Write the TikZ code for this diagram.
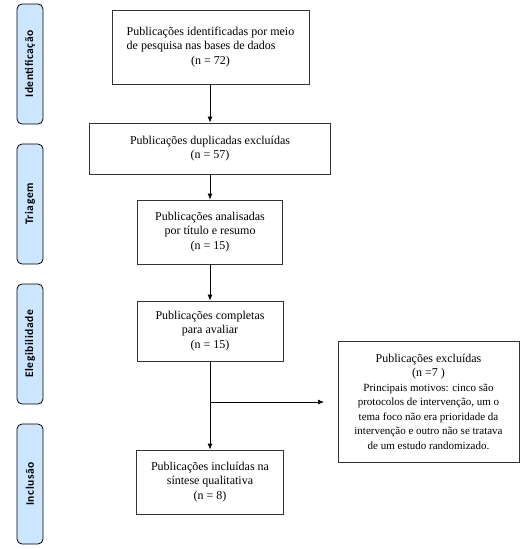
\documentclass[tikz,border=0pt]{standalone}
\usepackage{fontspec}
\setmainfont{Liberation Serif}
\newfontfamily\lblfont[LetterSpace=5]{Carlito}
\usetikzlibrary{arrows.meta}
\definecolor{lblblue}{HTML}{CCE6FF}
\definecolor{boxgray}{HTML}{333333}
\tikzset{
  stage/.style={draw=black, line width=0.8pt, fill=lblblue, rounded corners=5pt,
    minimum width=26pt, minimum height=120pt, inner sep=0pt},
  stagetext/.style={rotate=90, font=\lblfont\bfseries\fontsize{11.5}{13}\selectfont},
  flowbox/.style={draw=boxgray, line width=0.8pt, align=center, inner sep=2pt,
    font=\fontsize{12}{14.5}\selectfont},
  conn/.style={line width=0.8pt, draw=black},
  arr/.style={conn, -{Latex[length=6pt,width=5pt]}}
}
\begin{document}
\begin{tikzpicture}[x=1pt,y=-1pt]
\useasboundingbox (0,0) rectangle (532,549);
% stage labels
\node[stage] (s1) at (30,64) {};
\node[stagetext] (t1) at (s1.center) {Identificação};
\node[stage] (s2) at (30,204) {};
\node[stagetext] (t2) at (s2.center) {Triagem};
\node[stage] (s3) at (30,344) {};
\node[stagetext] (t3) at (s3.center) {Elegibilidade};
\node[stage] (s4) at (30,484) {};
\node[stagetext] (t4) at (s4.center) {Inclusão};
% flow boxes
\node[flowbox, minimum width=197pt, minimum height=74pt] (b1) at (210.5,47)
  {\def\arraystretch{1.0}\begin{tabular}{@{}l@{}}Publicações identificadas por meio\\de pesquisa nas bases de dados\\\multicolumn{1}{@{}c@{}}{(n = 72)}\end{tabular}};
\node[flowbox, minimum width=241pt, minimum height=51pt] (b2) at (210,148.5)
  {Publicações duplicadas excluídas\\(n = 57)};
\node[flowbox, minimum width=145pt, minimum height=64pt] (b3) at (210,232)
  {Publicações analisadas\\por título e resumo\\(n = 15)};
\node[flowbox, minimum width=146pt, minimum height=60pt] (b4) at (210,331)
  {Publicações completas\\para avaliar\\(n = 15)};
\node[flowbox, minimum width=181pt, minimum height=121pt] (b5) at (428.5,401.5)
  {Publicações excluídas\\(n =7 )\\\fontsize{11}{13.3}\selectfont Principais motivos: cinco são\\\fontsize{11}{13.3}\selectfont protocolos de intervenção, um o\\\fontsize{11}{13.3}\selectfont tema foco não era prioridade da\\\fontsize{11}{13.3}\selectfont intervenção e outro não se tratava\\\fontsize{11}{13.3}\selectfont de um estudo randomizado.};
\node[flowbox, minimum width=147pt, minimum height=64pt] (b6) at (210,482)
  {Publicações incluídas na\\síntese qualitativa\\(n = 8)};
% connectors
\coordinate (br) at (210,402);
\coordinate (tip) at (324,402);
\draw[arr] (b1.south -| b2.north) -- (b2.north);
\draw[arr] (b2.south) -- (b3.north);
\draw[arr] (b3.south) -- (b4.north);
\draw[arr] (b4.south) -- (b6.north);
\draw[arr] (br) -- (tip);
\end{tikzpicture}
\end{document}
